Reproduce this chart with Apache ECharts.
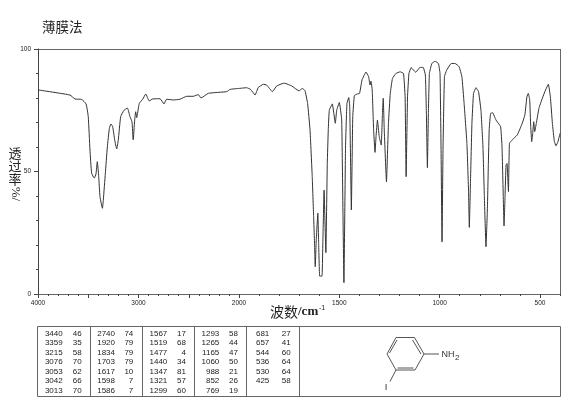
<!DOCTYPE html>
<html>
<head>
<meta charset="utf-8">
<style>html,body{margin:0;padding:0;background:#fff}#c{width:570px;height:411px}</style>
<script src="https://cdn.jsdelivr.net/npm/echarts@6/dist/echarts.min.js"></script>
</head>
<body>
<div id="c"></div>
<script>
// Spectrum, 4000-2000 cm-1
const highWn = [4000,3682,3632,3565,3522,3500,3483,3466,3440,3423,3410,3396,3383,3359,3350,3330,3310,3290,3274,3257,3237,3217,3201,3177,3144,3111,3085,3065,3053,3038,3028,3018,2992,2958,2928,2893,2859,2786,2746,2720,2654,2587,2520,2455,2405,2378,2305,2122,2090,2000];
const highT  = [83.3,81.2,79.6,79.4,77.6,72.4,58.8,49.3,47.3,49,54,47.9,39.7,35,38.4,49.2,60,67.6,69.4,68.3,62.9,59.2,62.9,72.4,75,75.9,72.4,70.3,63,71,74.4,72,77.8,79.5,81.6,78.8,79.6,79.7,77.6,79.5,79.2,79.5,80.7,80.7,81.4,80,81.9,82.6,83.5,83.9];
// Spectrum, 2000-400 cm-1
const lowWn = [2000,1962,1942,1920,1904,1879,1862,1834,1812,1779,1771,1737,1701,1684,1671,1658,1646,1635,1628,1624,1620,1615,1607,1603,1598,1590,1586,1581,1576,1567,1560,1555,1550,1535,1520,1513,1500,1488,1477,1469,1462,1453,1448,1440,1433,1425,1412,1399,1387,1367,1354,1347,1342,1336,1329,1322,1317,1310,1301,1291,1285,1281,1276,1265,1255,1246,1235,1218,1197,1180,1172,1167,1160,1153,1142,1119,1098,1081,1071,1066,1061,1056,1051,1039,1023,1006,998,993,988,983,976,966,944,923,903,889,878,864,856,852,846,839,831,819,806,794,784,777,769,762,757,753,746,736,719,696,689,682,679,674,669,664,657,652,638,613,588,575,565,558,551,546,541,536,531,526,518,505,488,472,458,448,438,428,420,410,400];
const lowT  = [83.9,84.2,83.5,81.2,84.3,85.6,85.3,82.6,84.9,86,86,84.9,82.9,83.9,83,77.8,67,47.9,31.6,22,11.1,22,33,20.7,7.3,7.3,7.3,25,42.4,16.9,53.3,67,75,77.6,69.7,75,78.2,71,4.6,60,77.8,80.2,76.5,34.3,72.4,81,81.6,81.9,87.3,90.6,88.7,85.3,86.9,83.3,67,57.8,64.2,71,64.2,60.8,73.7,79.9,67,45.8,69.7,81.9,88,90,90.7,90,80.5,47.9,80.5,90,92.4,90.5,92.5,92.4,89.4,73.9,51.6,73.7,90,94.1,95,94.1,90,60,21.3,60,88.7,91.2,94,94.1,92.8,88.7,77.8,61.5,42.4,27.2,46.5,69.7,81.9,84.2,82.6,75,60,39.7,19.3,34.3,53.4,67,73.7,74,71,68.3,60,37,27.8,39.7,52.6,53.3,41.8,61.5,62.9,64.9,69.7,73.1,80.5,81.9,79.2,68.3,62.2,65.6,70.3,66.3,69.7,75.8,79.9,83.3,85.6,80.5,69.7,62.2,60.5,62.2,65.6];

// Axis labels
const highLabels = [4000,3000,2000];
const lowLabels = [1500,1000,500];
const yLabels = [0,50,100];
const title = '薄膜法';
const yNameChars = ['透','过','率'];

// Peak table, one list per column
const peakCol1 = [['3440','46'],['3359','35'],['3215','58'],['3076','70'],['3053','62'],['3042','66'],['3013','70']];
const peakCol2 = [['2740','74'],['1920','79'],['1834','79'],['1703','79'],['1617','10'],['1598','7'],['1586','7']];
const peakCol3 = [['1567','17'],['1519','68'],['1477','4'],['1440','34'],['1347','81'],['1321','57'],['1299','60']];
const peakCol4 = [['1293','58'],['1265','44'],['1165','47'],['1060','50'],['988','21'],['852','26'],['769','19']];
const peakCol5 = [['681','27'],['657','41'],['544','60'],['536','64'],['530','64'],['425','58']];

const ink = '#333', frame = '#666';
const tickFont = {fontFamily:'Liberation Sans',fontSize:6.5,color:'#222',formatter:v=>String(v)};
const zip = (a,b)=>a.map((v,i)=>[v,b[i]]);

function xAxes(grid,min,max,labels,majors){
  return [
    {type:'value',gridIndex:grid,min,max,inverse:true,interval:100,position:'bottom',
     axisLine:{show:true,lineStyle:{color:frame,width:1}},
     axisTick:{show:true,length:2,lineStyle:{color:'#444',width:1}},
     axisLabel:{show:true,margin:6,customValues:labels,hideOverlap:false,...tickFont},
     splitLine:{show:false}},
    {type:'value',gridIndex:grid,min,max,inverse:true,position:'bottom',
     axisLine:{show:false},
     axisTick:{show:true,length:4,customValues:majors,lineStyle:{color:'#444',width:1}},
     axisLabel:{show:false},splitLine:{show:false}}
  ];
}

const g = [];
// frame top/right
g.push({type:'line',shape:{x1:38,y1:49.5,x2:560,y2:49.5},style:{stroke:frame,lineWidth:1}});
g.push({type:'line',shape:{x1:560.5,y1:49,x2:560.5,y2:294},style:{stroke:frame,lineWidth:1}});
// titles
g.push({type:'text',x:42,y:27,style:{text:title,font:'13.5px "Noto Sans CJK SC"',fill:'#222',textVerticalAlign:'middle'}});
yNameChars.forEach((ch,i)=>g.push({type:'text',x:15,y:153+i*13,style:{text:ch,font:'13px "Noto Sans CJK SC"',fill:'#222',textAlign:'center',textVerticalAlign:'middle'}}));
g.push({type:'text',x:15,y:194,rotation:-Math.PI/2,style:{text:'%/',font:'13px "Liberation Serif"',fill:'#222',textAlign:'center',textVerticalAlign:'middle'}});
g.push({type:'text',x:270,y:312,style:{text:'波数',font:'14px "Noto Sans CJK SC"',fill:'#222',textVerticalAlign:'middle'}});
g.push({type:'text',x:298,y:312,style:{text:'/cm',font:'bold 13px "Liberation Serif"',fill:'#222',textVerticalAlign:'middle'}});
g.push({type:'text',x:319,y:308,style:{text:'-1',font:'7px "Liberation Sans"',fill:'#222',textVerticalAlign:'middle'}});
// table frame
g.push({type:'rect',shape:{x:37.5,y:326.5,width:523,height:70},style:{fill:'none',stroke:frame,lineWidth:1}});
[90.5,142.5,194.5,246.5,299.5].forEach(x=>g.push({type:'line',shape:{x1:x,y1:326.5,x2:x,y2:396.5},style:{stroke:frame,lineWidth:1}}));
// table text
const colX = [[62.7,81.7],[115,133.3],[167.3,186],[219.3,238],[269.3,290.7]];
[peakCol1,peakCol2,peakCol3,peakCol4,peakCol5].forEach((col,c)=>{
  col.forEach((row,r)=>{
    const y = 333.5+r*9.47;
    row.forEach((t,k)=>g.push({type:'text',x:colX[c][k],y,style:{text:t,font:'8px "Liberation Sans"',fill:'#222',textAlign:'right',textVerticalAlign:'middle'}}));
  });
});
// molecule
const bond=(a,b,c,d)=>g.push({type:'line',shape:{x1:a,y1:b,x2:c,y2:d},style:{stroke:'#555',lineWidth:1}});
bond(424,354,414.5,337.5);bond(414.5,337.5,396,337.5);bond(396,337.5,387,354);bond(387,354,396,370);bond(396,370,415,370);bond(415,370,424,354);
bond(421,354,412.5,340);bond(397,340,389.5,353);bond(397.5,368,413.5,368);
bond(424,354,439,354);bond(396,370,390,381.5);
g.push({type:'text',x:441.5,y:354.5,style:{text:'NH',font:'9px "Liberation Sans"',fill:'#333',textVerticalAlign:'middle'}});
g.push({type:'text',x:455,y:358,style:{text:'2',font:'8px "Liberation Sans"',fill:'#333',textVerticalAlign:'middle'}});
g.push({type:'text',x:386,y:387.5,style:{text:'I',font:'9.5px "Liberation Sans"',fill:'#333',textAlign:'center',textVerticalAlign:'middle'}});

const option = {
  animation:false,
  backgroundColor:'#fff',
  grid:[
    {left:38,top:49,width:201,height:245},
    {left:239,top:49,width:321,height:245}
  ],
  xAxis:[
    ...xAxes(0,2000,4000,highLabels,[2500,3000,3500,4000]),
    ...xAxes(1,400,2000,lowLabels,[500,1000,1500,2000])
  ],
  yAxis:[
    {type:'value',gridIndex:0,min:0,max:100,interval:10,
     axisLine:{show:true,onZero:false,lineStyle:{color:'#444',width:1}},
     axisTick:{show:true,length:2,lineStyle:{color:'#444'}},
     axisLabel:{margin:7,customValues:yLabels,...tickFont},splitLine:{show:false}},
    {type:'value',gridIndex:0,min:0,max:100,position:'left',
     axisLine:{show:false},
     axisTick:{show:true,length:4,customValues:[0,50,100],lineStyle:{color:'#444'}},
     axisLabel:{show:false},splitLine:{show:false}},
    {type:'value',gridIndex:1,min:0,max:100,show:false}
  ],
  series:[
    {type:'line',xAxisIndex:0,yAxisIndex:0,data:zip(highWn,highT),showSymbol:false,smooth:0.15,lineStyle:{color:ink,width:1},silent:true},
    {type:'line',xAxisIndex:2,yAxisIndex:2,data:zip(lowWn,lowT),showSymbol:false,smooth:0.1,lineStyle:{color:ink,width:1},silent:true}
  ],
  graphic:{elements:g}
};
echarts.init(document.getElementById('c'),null,{renderer:'canvas'}).setOption(option);
</script>
</body>
</html>
